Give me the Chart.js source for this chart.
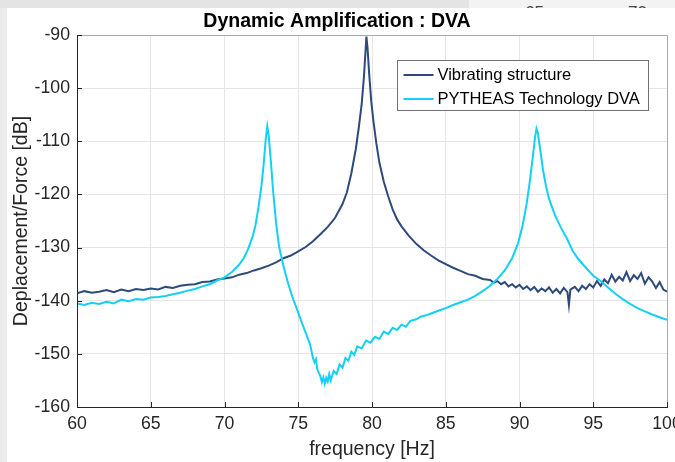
<!DOCTYPE html>
<html>
<head>
<meta charset="utf-8">
<script src="https://cdn.jsdelivr.net/npm/chart.js@4"></script>
<style>
  body { margin: 0; background: #ececec; width: 675px; height: 462px; overflow: hidden; position: relative; }
  #topband { position: absolute; left: 0; top: 0; width: 675px; height: 8px; background: #e4e4e4; }
  #topright { position: absolute; left: 469px; top: 0; width: 206px; height: 8px; background: #f3f3f3; overflow: hidden;
              font: 17px "Liberation Sans", Arial, sans-serif; color: #444; }
  #topright span { position: absolute; top: 3px; }
  #wrap { position: absolute; left: 7px; top: 8px; width: 668px; height: 454px; background: #fff; }
</style>
</head>
<body>
<div id="topband"></div>
<div id="topright"><span style="left:56px">65</span><span style="left:159px">70</span></div>
<div id="wrap"><canvas id="myChart" width="668" height="454"></canvas></div>
<script>
// Vibrating structure (frequency in Hz, response in dB)
const vibFreq = [
  60.0, 60.5, 61.0, 61.5, 62.0, 62.5, 63.0, 63.5, 64.0, 64.5,
  65.0, 65.5, 66.0, 66.5, 67.0, 67.5, 68.0, 68.5, 69.0, 69.5,
  70.0, 70.5, 71.0, 71.5, 72.0, 72.5, 73.0, 73.5, 74.0, 74.5,
  75.0, 75.5, 76.0, 76.5, 77.0, 77.5, 78.0, 78.3, 78.6, 78.9,
  79.1, 79.3, 79.45, 79.55, 79.62, 79.7, 79.8, 79.95, 80.1, 80.3,
  80.5, 80.8, 81.1, 81.4, 81.7, 82.0, 82.5, 83.0, 83.5, 84.0,
  84.5, 85.0, 85.5, 86.0, 86.5, 87.0, 87.5, 88.0, 88.25, 88.5,
  88.75, 89.0, 89.25, 89.5, 89.75, 90.0, 90.25, 90.5, 90.75, 91.0,
  91.25, 91.5, 91.75, 92.0, 92.25, 92.5, 92.75, 93.0, 93.25, 93.35,
  93.45, 93.75, 94.0, 94.25, 94.5, 94.75, 95.0, 95.25, 95.5, 95.75,
  96.0, 96.25, 96.5, 96.75, 97.0, 97.25, 97.5, 97.75, 98.0, 98.25,
  98.5, 98.75, 99.0, 99.25, 99.5, 99.75, 100.0];
const vibDb = [
  -138.6, -138.2, -138.5, -138.3, -138.0, -138.4, -137.9, -138.2, -137.8, -138.0,
  -137.7, -137.9, -137.4, -137.6, -137.2, -137.0, -136.9, -136.5, -136.4, -136.0,
  -135.8, -135.6, -135.1, -134.8, -134.3, -133.9, -133.4, -132.8, -132.0, -131.5,
  -130.7, -129.9, -128.8, -127.5, -126.1, -124.4, -121.8, -119.6, -116.0, -111.5,
  -107.5, -103.0, -98.0, -93.5, -90.3, -92.5, -97.0, -102.5, -106.3, -110.5,
  -114.0, -117.6, -120.4, -122.8, -124.7, -126.0, -127.8, -129.3, -130.5, -131.5,
  -132.4, -133.1, -133.8, -134.4, -135.0, -135.3, -135.9, -136.1, -136.6, -136.3,
  -136.9, -136.5, -137.3, -136.9, -137.5, -137.0, -137.8, -137.3, -138.0, -137.4,
  -138.3, -137.7, -138.2, -137.5, -138.5, -137.8, -138.6, -137.6, -138.4, -140.8,
  -137.9, -137.4, -138.2, -137.2, -137.8, -136.9, -137.5, -136.3, -137.2, -136.0,
  -136.7, -135.1, -136.4, -135.5, -136.2, -134.6, -136.3, -135.2, -135.9, -134.8,
  -136.8, -135.6, -136.4, -137.6, -136.5, -137.9, -138.3];

// PYTHEAS Technology DVA
const dvaFreq = [
  60.0, 60.5, 61.0, 61.5, 62.0, 62.5, 63.0, 63.5, 64.0, 64.5,
  65.0, 65.5, 66.0, 66.5, 67.0, 67.5, 68.0, 68.5, 69.0, 69.5,
  70.0, 70.5, 71.0, 71.3, 71.6, 71.9, 72.1, 72.3, 72.5, 72.65,
  72.8, 72.9, 73.0, 73.15, 73.3, 73.5, 73.7, 74.0, 74.3, 74.6,
  74.9, 75.2, 75.5, 75.8, 76.0, 76.1, 76.2, 76.3, 76.5, 76.6,
  76.7, 76.8, 76.9, 77.0, 77.1, 77.2, 77.4, 77.6, 77.8, 78.0,
  78.2, 78.4, 78.6, 78.8, 79.0, 79.3, 79.6, 79.9, 80.2, 80.5,
  80.8, 81.1, 81.4, 81.7, 82.0, 82.3, 82.6, 83.0, 83.3, 83.6,
  84.0, 84.5, 85.0, 85.5, 86.0, 86.5, 87.0, 87.5, 88.0, 88.5,
  89.0, 89.5, 89.9, 90.2, 90.5, 90.7, 90.9, 91.05, 91.15, 91.25,
  91.4, 91.6, 91.8, 92.0, 92.4, 92.8, 93.2, 93.6, 94.0, 94.5,
  95.0, 95.5, 96.0, 96.5, 97.0, 97.5, 98.0, 98.5, 99.0, 99.5,
  100.0];
const dvaDb = [
  -140.5, -140.8, -140.4, -140.6, -140.2, -140.5, -139.8, -140.1, -139.7, -139.8,
  -139.4, -139.3, -139.1, -138.8, -138.5, -138.1, -137.8, -137.3, -136.9, -136.2,
  -135.6, -134.6, -133.2, -132.0, -130.3, -128.0, -125.8, -122.5, -118.5, -114.5,
  -109.5, -107.2, -109.0, -114.0, -119.5, -125.5, -129.8, -133.5, -136.6, -139.3,
  -141.5, -143.8, -146.0, -148.2, -150.8, -151.6, -151.0, -153.0, -154.2, -155.3,
  -154.4, -155.6, -154.5, -155.2, -153.8, -155.0, -153.2, -153.8, -152.0, -152.6,
  -150.8, -151.3, -149.6, -150.2, -148.6, -149.0, -147.5, -147.9, -146.8, -147.2,
  -145.8, -146.3, -145.1, -145.5, -144.5, -144.9, -143.8, -143.5, -143.0, -142.8,
  -142.4, -141.9, -141.4, -140.8, -140.3, -139.8, -139.1, -138.2, -137.2, -135.9,
  -134.3, -132.0, -129.2, -126.0, -121.5, -117.5, -113.0, -109.3, -107.6, -108.5,
  -111.5, -115.5, -118.5, -120.8, -123.9, -126.2, -128.2, -130.6, -132.2, -133.8,
  -135.3, -136.3, -137.5, -138.7, -139.7, -140.6, -141.4, -142.0, -142.6, -143.1,
  -143.6];

const seriesNames = ['Vibrating structure', 'PYTHEAS Technology DVA'];
const xTicks = [60, 65, 70, 75, 80, 85, 90, 95, 100];
const yTicks = [-160, -150, -140, -130, -120, -110, -100, -90];

const FONT = '"Liberation Sans", Arial, Helvetica, sans-serif';
const INK = '#262626';

const toPoints = (xs, ys) => xs.map((x, i) => ({ x: x, y: ys[i] }));

// ticks pointing inward, box, and the boxed legend
const axesBox = {
  id: 'axesBox',
  afterDraw(chart) {
    const { ctx, chartArea: a, scales } = chart;
    ctx.save();
    ctx.lineWidth = 1;
    ctx.strokeStyle = '#a8a8a8';
    ctx.beginPath();
    ctx.moveTo(a.left, a.top + 0.5); ctx.lineTo(a.right + 0.5, a.top + 0.5);
    ctx.lineTo(a.right + 0.5, a.bottom);
    ctx.stroke();
    ctx.strokeStyle = INK;
    ctx.beginPath();
    ctx.moveTo(a.left + 0.5, a.top); ctx.lineTo(a.left + 0.5, a.bottom + 0.5);
    ctx.lineTo(a.right + 1, a.bottom + 0.5);
    xTicks.forEach(v => {
      const px = Math.round(scales.x.getPixelForValue(v)) + 0.5;
      ctx.moveTo(px, a.bottom); ctx.lineTo(px, a.bottom - 5);
    });
    yTicks.forEach(v => {
      const py = Math.round(scales.y.getPixelForValue(v)) + 0.5;
      ctx.moveTo(a.left, py); ctx.lineTo(a.left + 5, py);
    });
    ctx.stroke();

    // legend
    const lx = 390.5, ly = 52.5, lw = 251, lh = 50;
    ctx.fillStyle = '#fff';
    ctx.fillRect(lx, ly, lw, lh);
    ctx.strokeStyle = '#707070';
    ctx.strokeRect(lx, ly, lw, lh);
    ctx.font = '16.5px ' + FONT;
    ctx.textBaseline = 'middle';
    chart.data.datasets.forEach((ds, i) => {
      const rowY = ly + 14.5 + i * 24;
      ctx.strokeStyle = ds.borderColor;
      ctx.lineWidth = 2;
      ctx.beginPath();
      ctx.moveTo(lx + 6, rowY); ctx.lineTo(lx + 36, rowY);
      ctx.stroke();
      ctx.fillStyle = '#000';
      ctx.fillText(ds.label, lx + 40, rowY + 0.5);
    });
    ctx.restore();
  }
};

new Chart(document.getElementById('myChart'), {
  type: 'line',
  data: {
    datasets: [{
      label: seriesNames[0],
      data: toPoints(vibFreq, vibDb),
      borderColor: '#2e4a7c',
      borderWidth: 2,
      pointRadius: 0,
      order: 1
    }, {
      label: seriesNames[1],
      data: toPoints(dvaFreq, dvaDb),
      borderColor: '#14d0f6',
      borderWidth: 2,
      pointRadius: 0,
      order: 0
    }]
  },
  options: {
    responsive: false,
    animation: false,
    devicePixelRatio: 1,
    layout: { padding: { left: 0, right: 8, top: 0, bottom: 0 } },
    plugins: {
      legend: { display: false },
      tooltip: { enabled: false },
      title: {
        display: true,
        text: 'Dynamic Amplification : DVA',
        color: '#000',
        font: { family: FONT, size: 19.5, weight: 'bold' },
        padding: { top: 1.8, bottom: 1.8 }
      }
    },
    scales: {
      x: {
        type: 'linear',
        min: 60,
        max: 100,
        afterBuildTicks: s => { s.ticks = xTicks.map(v => ({ value: v })); },
        afterFit: s => { s.height = 55; s.paddingLeft = 0; s.paddingRight = 0; },
        grid: { color: '#e6e6e6', drawTicks: false },
        border: { display: false },
        ticks: { color: INK, padding: 6, maxRotation: 0, font: { family: FONT, size: 17.7 } },
        title: {
          display: true,
          text: 'frequency [Hz]',
          color: INK,
          font: { family: FONT, size: 19.5 },
          padding: { top: 0, bottom: 0.5 }
        }
      },
      y: {
        type: 'linear',
        min: -160,
        max: -90,
        afterBuildTicks: s => { s.ticks = yTicks.map(v => ({ value: v })); },
        afterFit: s => { s.width = 70; s.paddingTop = 0; s.paddingBottom = 0; },
        grid: { color: '#e6e6e6', drawTicks: false },
        border: { display: false },
        ticks: { color: INK, padding: 7, font: { family: FONT, size: 17.7 } },
        title: {
          display: true,
          text: 'Deplacement/Force [dB]',
          color: INK,
          font: { family: FONT, size: 19.5 },
          padding: { top: 2.8, bottom: 0 }
        }
      }
    }
  },
  plugins: [axesBox]
});
</script>
</body>
</html>
